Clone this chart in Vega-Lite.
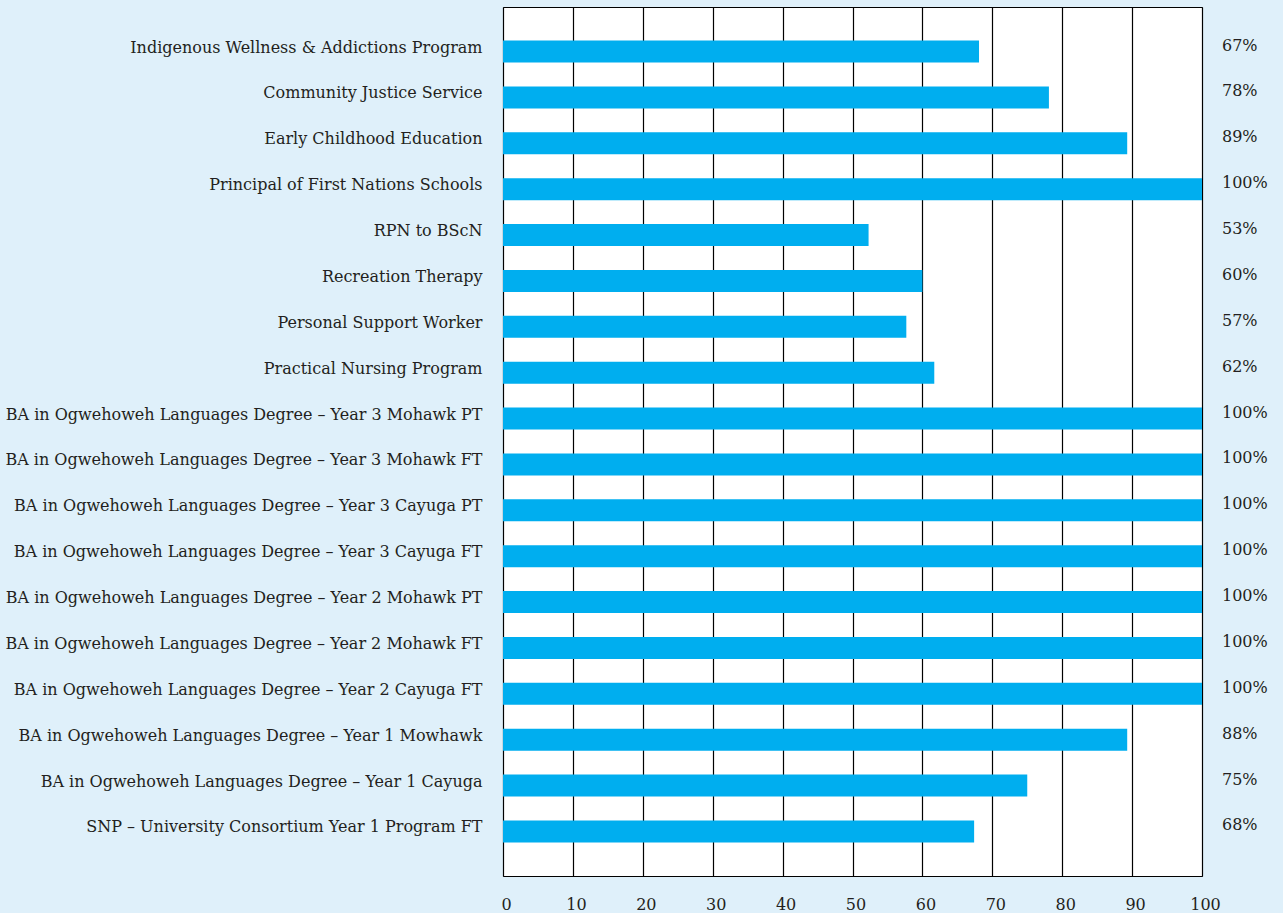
{
  "$schema": "https://vega.github.io/schema/vega-lite/v6.json",
  "autosize": "none",
  "padding": {"left": 503, "top": 7, "right": 81, "bottom": 37},
  "width": 699,
  "height": 869,
  "background": "#dff0fa",
  "config": {
    "view": {"fill": "white", "stroke": "black", "strokeWidth": 1},
    "font": "DejaVu Serif"
  },
  "data": {
    "values": [
      {"program": "Indigenous Wellness & Addictions Program", "value": 68.1, "label": "67%"},
      {"program": "Community Justice Service", "value": 78.1, "label": "78%"},
      {"program": "Early Childhood Education", "value": 89.3, "label": "89%"},
      {"program": "Principal of First Nations Schools", "value": 100, "label": "100%"},
      {"program": "RPN to BScN", "value": 52.3, "label": "53%"},
      {"program": "Recreation Therapy", "value": 60, "label": "60%"},
      {"program": "Personal Support Worker", "value": 57.7, "label": "57%"},
      {"program": "Practical Nursing Program", "value": 61.7, "label": "62%"},
      {"program": "BA in Ogwehoweh Languages Degree – Year 3 Mohawk PT", "value": 100, "label": "100%"},
      {"program": "BA in Ogwehoweh Languages Degree – Year 3 Mohawk FT", "value": 100, "label": "100%"},
      {"program": "BA in Ogwehoweh Languages Degree – Year 3 Cayuga PT", "value": 100, "label": "100%"},
      {"program": "BA in Ogwehoweh Languages Degree – Year 3 Cayuga FT", "value": 100, "label": "100%"},
      {"program": "BA in Ogwehoweh Languages Degree – Year 2 Mohawk PT", "value": 100, "label": "100%"},
      {"program": "BA in Ogwehoweh Languages Degree – Year 2 Mohawk FT", "value": 100, "label": "100%"},
      {"program": "BA in Ogwehoweh Languages Degree – Year 2 Cayuga FT", "value": 100, "label": "100%"},
      {"program": "BA in Ogwehoweh Languages Degree – Year 1 Mowhawk", "value": 89.3, "label": "88%"},
      {"program": "BA in Ogwehoweh Languages Degree – Year 1 Cayuga", "value": 75, "label": "75%"},
      {"program": "SNP – University Consortium Year 1 Program FT", "value": 67.4, "label": "68%"}
    ]
  },
  "encoding": {
    "y": {
      "field": "program",
      "type": "nominal",
      "sort": null,
      "title": null,
      "scale": {"paddingInner": 0.52, "paddingOuter": 0.73},
      "axis": {
        "ticks": false,
        "domain": false,
        "labelFontSize": 16,
        "labelColor": "#231f20",
        "labelPadding": 21,
        "labelOffset": -4,
        "labelLimit": 600,
        "labelFont": "DejaVu Serif"
      }
    }
  },
  "layer": [
    {
      "mark": {"type": "bar", "color": "#00aeef"},
      "encoding": {
        "x": {
          "field": "value",
          "type": "quantitative",
          "title": null,
          "scale": {"domain": [0, 100], "nice": false},
          "axis": {
            "values": [0, 10, 20, 30, 40, 50, 60, 70, 80, 90, 100],
            "ticks": false,
            "domain": false,
            "grid": true,
            "gridColor": "black",
            "gridWidth": 1.2,
            "gridOpacity": 1,
            "labelFontSize": 16,
            "labelColor": "#231f20",
            "labelPadding": 20,
            "labelFlush": false,
            "labelOffset": 3,
            "labelFont": "DejaVu Serif"
          }
        }
      }
    },
    {
      "mark": {"type": "text", "align": "left", "dx": 20, "dy": -6, "fontSize": 16, "color": "#231f20", "font": "DejaVu Serif"},
      "encoding": {
        "x": {"datum": 100, "type": "quantitative"},
        "text": {"field": "label"}
      }
    }
  ]
}
